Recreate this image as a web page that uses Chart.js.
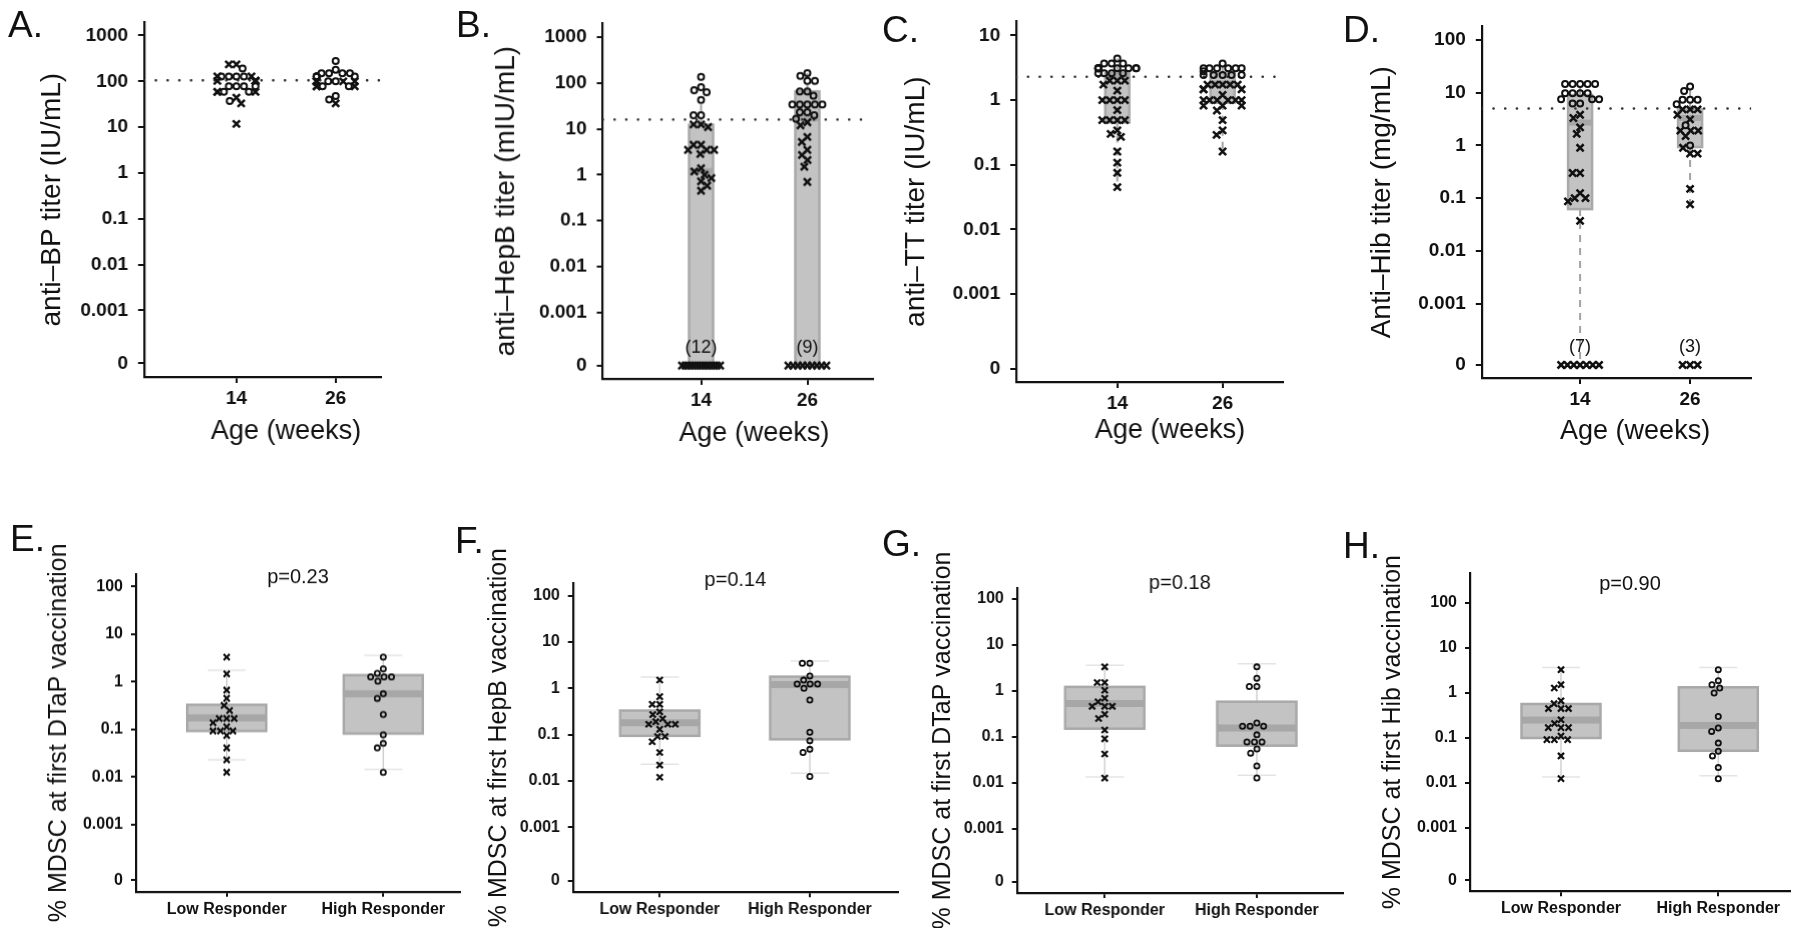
<!DOCTYPE html>
<html>
<head>
<meta charset="utf-8">
<script src="https://cdn.jsdelivr.net/npm/chart.js@4.4.0/dist/chart.umd.min.js"></script>
<style>
  body { margin: 0; background: #fff; width: 1800px; height: 932px; position: relative; overflow: hidden;
         font-family: "Liberation Sans", Arial, Helvetica, sans-serif; }
  .panel { position: absolute; }
  .letter { position: absolute; font-size: 37px; line-height: 1; color: #111; }
</style>
</head>
<body>
<script>
// ---- data ----
const ageWeeks = ['14', '26'];
const responders = ['Low Responder', 'High Responder'];
const decadeTicks = [0, 0.001, 0.01, 0.1, 1, 10, 100, 1000];
const decadeLabels = ['0', '0.001', '0.01', '0.1', '1', '10', '100', '1000'];
const pValues = ['p=0.23', 'p=0.14', 'p=0.18', 'p=0.90'];

// A. anti-BP
const bpCutoff = 105;
const bp14Circles = [190, 128, 128, 128, 128, 78, 78, 78, 78, 59, 59, 37];
const bp14Crosses = [235, 235, 128, 128, 102, 102, 102, 102, 102, 102, 102, 59, 59, 59, 44, 33, 11.8];
const bp26Circles = [277, 178, 150, 150, 150, 150, 128, 128, 128, 128, 128, 100, 100, 78, 78, 48, 40];
const bp26Crosses = [100, 100, 100, 100, 100, 100, 78, 78, 78, 33];

// B. anti-HepB
const hepbCutoff = 16;
const hepb14Circles = [137, 81, 70, 63, 43, 19.8, 19.8];
const hepb14Crosses = [12.6, 12.6, 11, 4.5, 4.5, 3.5, 3.5, 3.5, 2.85, 1.39, 1.18, 1.0, 0.85, 0.72, 0.58, 0.45,
                       0, 0, 0, 0, 0, 0, 0, 0, 0, 0, 0, 0];
const hepb26Circles = [164, 144, 112, 112, 66, 66, 53, 34, 34, 34, 34, 34, 23, 23, 19.8, 16.7];
const hepb26Crosses = [14, 12, 6.7, 5.2, 3.5, 2.7, 2.1, 1.5, 0.7, 0, 0, 0, 0, 0, 0, 0, 0, 0];
const hepbBox = { q1: [0, 0], median: [1.2, 17], q3: [12.4, 66], lower: [0, 0], upper: [43, 164] };

// C. anti-TT
const ttCutoff = 2.3;
const tt14Circles = [4.4, 3.7, 3.7, 3.7, 3.1, 3.1, 3.1, 3.1, 3.1, 3.1, 3.1, 3.1, 2.6, 2.6, 2.6, 2.6];
const tt14Crosses = [2.0, 2.0, 2.0, 1.74, 1.4, 1.0, 1.0, 1.0, 1.0, 0.7, 0.49, 0.49, 0.49, 0.49, 0.34, 0.3, 0.27,
                     0.16, 0.108, 0.075, 0.045];
const tt26Circles = [3.7, 3.1, 3.1, 3.1, 3.1, 3.1, 3.1, 2.8, 2.45, 2.45, 2.45, 2.45, 2.45];
const tt26Crosses = [1.74, 1.74, 1.74, 1.74, 1.74, 1.47, 1.47, 1.47, 1.2, 1.0, 1.0, 1.0, 1.0, 1.0, 1.0,
                     0.82, 0.82, 0.82, 0.69, 0.49, 0.34, 0.29, 0.16];
const ttBox = { q1: [0.45, 0.91], median: [2.4, 1.8], q3: [2.6, 2.6], lower: [0.045, 0.16], upper: [4.4, 3.7] };

// D. anti-Hib
const hibCutoff = 5;
const hib14Circles = [14.5, 14.5, 14.5, 14.5, 14.5, 9.7, 9.7, 9.7, 9.7, 7.5, 7.5, 7.5, 6.2, 6.2];
const hib14Crosses = [3.8, 3.3, 2.2, 1.65, 0.9, 0.3, 0.3, 0.125, 0.1, 0.1, 0.087, 0.037, 0, 0, 0, 0, 0, 0, 0];
const hib26Circles = [13, 10.7, 7.3, 7.3, 7.3, 6, 2.4, 1.0];
const hib26Crosses = [4.8, 4.8, 4.8, 3.8, 3.1, 1.9, 1.9, 1.9, 1.5, 0.9, 0.7, 0.7, 0.15, 0.076, 0, 0, 0];
const hibBox = { q1: [0.062, 0.93], median: [2.7, 3.3], q3: [9.0, 4.8], lower: [0, 0.076], upper: [14.5, 13] };

// E-H. % MDSC at first vaccination
const mdscDtapLow = [3.3, 1.47, 0.67, 0.45, 0.32, 0.25, 0.17, 0.17, 0.17, 0.138, 0.114, 0.093, 0.093, 0.093,
                     0.075, 0.041, 0.023, 0.0126];
const mdscDtapHigh = [3.3, 1.87, 1.5, 1.27, 1.27, 1.27, 1.03, 0.56, 0.45, 0.206, 0.077, 0.051, 0.041, 0.0126];
const mdscDtapBox = { q1: [0.093, 0.082], median: [0.175, 0.56], q3: [0.33, 1.38], lower: [0.023, 0.0145], upper: [1.76, 3.6] };

const mdscHepbLow = [1.51, 0.66, 0.45, 0.45, 0.31, 0.27, 0.22, 0.19, 0.167, 0.167, 0.167, 0.13, 0.091, 0.091,
                     0.07, 0.041, 0.022, 0.012];
const mdscHepbHigh = [3.46, 3.46, 1.85, 1.5, 1.24, 1.24, 1.24, 1.0, 0.56, 0.112, 0.074, 0.048, 0.041, 0.0125];
const mdscHepbBox = { q1: [0.094, 0.079], median: [0.18, 1.2], q3: [0.33, 1.78], lower: [0.023, 0.0147], upper: [1.75, 3.9] };

const mdscDtap2Low = [3.33, 1.52, 1.52, 1.03, 0.69, 0.58, 0.46, 0.46, 0.46, 0.31, 0.25, 0.14, 0.09, 0.042, 0.0126];
const mdscDtap2High = [3.33, 1.88, 1.24, 1.24, 0.2, 0.17, 0.17, 0.17, 0.11, 0.077, 0.077, 0.077, 0.054, 0.044,
                       0.023, 0.0126];
const mdscDtap2Box = { q1: [0.15, 0.064], median: [0.53, 0.155], q3: [1.22, 0.58], lower: [0.0133, 0.0145], upper: [3.6, 3.9] };

const mdscHibLow = [3.3, 1.53, 1.29, 0.67, 0.58, 0.45, 0.45, 0.45, 0.255, 0.21, 0.17, 0.17, 0.17, 0.11, 0.092,
                    0.092, 0.092, 0.04, 0.0125];
const mdscHibHigh = [3.3, 1.88, 1.53, 1.29, 1.0, 0.3, 0.167, 0.14, 0.077, 0.051, 0.04, 0.022, 0.0125];
const mdscHibBox = { q1: [0.1, 0.052], median: [0.25, 0.19], q3: [0.57, 1.34], lower: [0.0136, 0.0145], upper: [3.7, 3.7] };

// ---- helpers ----
const FONT = "'Liberation Sans', Arial, Helvetica, sans-serif";
const ZERO_AT = -4.16;   // where "0" sits on the log axis
const pos = v => v > 0 ? Math.log10(v) : ZERO_AT;

const topStyle = {
  tickSize: 19, titleSize: 28, yTickLen: 6, yTickPad: 10, xTickLen: 6, xTickPad: 4, padTop: 16,
  boxW: 24, medH: 6, crossR: 5, crossW: 2.5, circR: 3, circW: 2, gap: 7.5, maxHalf: 19,
  whiskerColor: '#a3a3a3', whiskerDash: [7, 6], whiskerW: 2, capW: 0, canvasBottom: 460
};
const bottomStyle = {
  tickSize: 16, titleSize: 25, yTickLen: 5, yTickPad: 8, xTickLen: 5, xTickPad: 3, padTop: 50,
  boxW: 79, medH: 7, crossR: 4.3, crossW: 2.2, circR: 2.6, circW: 1.8, gap: 7.5, maxHalf: 19,
  whiskerColor: '#d0d0d0', whiskerDash: [], whiskerW: 1.5, capW: 38, capColor: '#e4e4e4', canvasBottom: 928
};

const panels = [
  { letter: 'A.', letterXY: [8, 37], st: topStyle, yTitle: 'anti–BP titer (IU/mL)', titleCx: 52,
    cats: ageWeeks, groups: [[bp14Circles, bp14Crosses], [bp26Circles, bp26Crosses]], box: null, cutoff: bpCutoff,
    area: [144, 380, 16.7, 376.7], catPx: [236, 335], yLim: [-4.456, 3.286], nTicks: 8,
    xTitle: 'Age (weeks)', xTitleY: 431.7 },
  { letter: 'B.', letterXY: [456, 37], st: topStyle, yTitle: 'anti–HepB titer (mIU/mL)', titleCx: 506,
    cats: ageWeeks, groups: [[hepb14Circles, hepb14Crosses], [hepb26Circles, hepb26Crosses]], box: hepbBox, cutoff: hepbCutoff,
    area: [602.7, 871.7, 18.3, 378.3], catPx: [700.7, 806.7], yLim: [-4.449, 3.30], nTicks: 8,
    xTitle: 'Age (weeks)', xTitleY: 433 },
  { letter: 'C.', letterXY: [882, 42], st: topStyle, yTitle: 'anti–TT titer (IU/mL)', titleCx: 915.8,
    cats: ageWeeks, groups: [[tt14Circles, tt14Crosses], [tt26Circles, tt26Crosses]], box: ttBox, cutoff: ttCutoff,
    area: [1016, 1281.7, 15.7, 381.7], catPx: [1116.7, 1221.7], yLim: [-4.363, 1.218], nTicks: 6,
    xTitle: 'Age (weeks)', xTitleY: 430 },
  { letter: 'D.', letterXY: [1343, 42], st: topStyle, yTitle: 'Anti–Hib titer (mg/mL)', titleCx: 1381.7,
    cats: ageWeeks, groups: [[hib14Circles, hib14Crosses], [hib26Circles, hib26Crosses]], box: hibBox, cutoff: hibCutoff,
    area: [1481.7, 1751, 20.7, 377.7], catPx: [1580, 1690], yLim: [-4.407, 2.254], nTicks: 7,
    xTitle: 'Age (weeks)', xTitleY: 431.7 },
  { letter: 'E.', letterXY: [10, 551], st: bottomStyle, yTitle: '% MDSC at first DTaP vaccination', titleCx: 59,
    cats: responders, groups: [[[], mdscDtapLow], [mdscDtapHigh, []]], box: mdscDtapBox, pText: pValues[0], pY: 577.7,
    area: [136, 460, 574.3, 891], catPx: [226.7, 383.3], yLim: [-4.404, 2.26], nTicks: 7 },
  { letter: 'F.', letterXY: [455, 553], st: bottomStyle, yTitle: '% MDSC at first HepB vaccination', titleCx: 499,
    cats: responders, groups: [[[], mdscHepbLow], [mdscHepbHigh, []]], box: mdscHepbBox, pText: pValues[1], pY: 580.3,
    area: [572.7, 896.7, 582.7, 892], catPx: [659.3, 809], yLim: [-4.404, 2.272], nTicks: 7 },
  { letter: 'G.', letterXY: [882, 556], st: bottomStyle, yTitle: '% MDSC at first DTaP vaccination', titleCx: 943,
    cats: responders, groups: [[[], mdscDtap2Low], [mdscDtap2High, []]], box: mdscDtap2Box, pText: pValues[2], pY: 582.7,
    area: [1016.7, 1341.7, 587.7, 892.7], catPx: [1104.3, 1256], yLim: [-4.403, 2.24], nTicks: 7 },
  { letter: 'H.', letterXY: [1343, 558], st: bottomStyle, yTitle: '% MDSC at first Hib vaccination', titleCx: 1393,
    cats: responders, groups: [[[], mdscHibLow], [mdscHibHigh, []]], box: mdscHibBox, pText: pValues[3], pY: 584.3,
    area: [1470, 1790, 572.7, 891], catPx: [1561, 1718.3], yLim: [-4.407, 2.667], nTicks: 7 }
];

// simple beeswarm: horizontal offsets in px, zeros laid out as one row
function swarm(vals, pxPerY, gap, maxHalf) {
  const out = vals.map(() => 0);
  const zeros = [];
  vals.forEach((v, i) => { if (v <= 0) zeros.push(i); });
  if (zeros.length > 1) {
    const step = Math.min(gap, 2 * maxHalf / (zeros.length - 1));
    zeros.forEach((i, k) => { out[i] = (k - (zeros.length - 1) / 2) * step; });
  }
  const order = vals.map((v, i) => i).filter(i => vals[i] > 0).sort((a, b) => vals[b] - vals[a]);
  const placed = [];
  order.forEach(i => {
    const y = pos(vals[i]) * pxPerY;
    const near = placed.filter(q => Math.abs(q.y - y) < gap);
    const cand = [0];
    near.forEach(q => {
      const d = Math.sqrt(gap * gap - (q.y - y) ** 2);
      cand.push(q.x - d, q.x + d);
    });
    cand.sort((a, b) => Math.abs(a) - Math.abs(b));
    let x = cand.find(c => near.every(q => Math.hypot(q.x - c, q.y - y) >= gap - 0.01));
    if (x === undefined) x = 0;
    x = Math.max(-maxHalf, Math.min(maxHalf, x));
    placed.push({ x, y });
    out[i] = x;
  });
  return out;
}

function panelPlugin(p, cLeft, cTop) {
  const st = p.st;
  return {
    id: 'panelExtras',
    beforeDatasetsDraw(chart) {
      if (!p.box) return;
      const { ctx, scales: { x, y } } = chart;
      const seg = (x1, y1, x2, y2) => { ctx.beginPath(); ctx.moveTo(x1, y1); ctx.lineTo(x2, y2); ctx.stroke(); };
      ctx.save();
      p.box.q1.forEach((_, gi) => {
        const cx = x.getPixelForValue(gi + 1);
        const yq1 = y.getPixelForValue(pos(p.box.q1[gi]));
        const yq3 = y.getPixelForValue(pos(p.box.q3[gi]));
        const ymed = y.getPixelForValue(pos(p.box.median[gi]));
        const ylo = y.getPixelForValue(pos(p.box.lower[gi]));
        const yhi = y.getPixelForValue(pos(p.box.upper[gi]));
        ctx.strokeStyle = st.whiskerColor;
        ctx.lineWidth = st.whiskerW;
        ctx.setLineDash(st.whiskerDash);
        if (yhi < yq3) seg(cx, yq3, cx, yhi);
        if (ylo > yq1) seg(cx, yq1, cx, ylo);
        ctx.setLineDash([]);
        if (st.capW) {
          ctx.strokeStyle = st.capColor;
          seg(cx - st.capW / 2, yhi, cx + st.capW / 2, yhi);
          seg(cx - st.capW / 2, ylo, cx + st.capW / 2, ylo);
        }
        ctx.fillStyle = '#c3c3c3';
        ctx.fillRect(cx - st.boxW / 2, yq3, st.boxW, yq1 - yq3);
        ctx.strokeStyle = '#a9a9a9';
        ctx.lineWidth = 2.5;
        ctx.strokeRect(cx - st.boxW / 2, yq3, st.boxW, yq1 - yq3);
        ctx.fillStyle = '#a7a7a7';
        ctx.fillRect(cx - st.boxW / 2, ymed - st.medH / 2, st.boxW, st.medH);
      });
      ctx.restore();
    },
    afterDraw(chart) {
      const { ctx, chartArea, scales: { x, y } } = chart;
      ctx.save();
      ctx.fillStyle = '#111';
      ctx.textAlign = 'center';
      ctx.textBaseline = 'middle';
      // counts of zero values
      ctx.font = '18px ' + FONT;
      p.groups.forEach((g, gi) => {
        const n = g[0].concat(g[1]).filter(v => v === 0).length;
        if (n) ctx.fillText('(' + n + ')', x.getPixelForValue(gi + 1), y.getPixelForValue(ZERO_AT) - 18);
      });
      if (p.xTitle) {
        ctx.font = '27px ' + FONT;
        ctx.fillText(p.xTitle, (x.getPixelForValue(1) + x.getPixelForValue(2)) / 2, p.xTitleY - cTop);
      }
      if (p.pText) {
        ctx.font = '20px ' + FONT;
        ctx.fillText(p.pText, (chartArea.left + chartArea.right) / 2, p.pY - cTop);
      }
      // y-axis title, free to run past the axis ends
      ctx.font = st.titleSize + 'px ' + FONT;
      ctx.translate(p.titleCx - cLeft, (chartArea.top + chartArea.bottom) / 2);
      ctx.rotate(-Math.PI / 2);
      ctx.fillText(p.yTitle, 0, 0);
      ctx.restore();
    }
  };
}

function makePanel(p) {
  const st = p.st;
  const [l, r, t, b] = p.area;
  const lh = st.titleSize * 1.2;
  const cLeft = p.titleCx - lh / 2 - 2;
  const cTop = t - st.padTop;
  const cRight = r + 8;
  const cBottom = st.canvasBottom;

  const wrap = document.createElement('div');
  wrap.className = 'panel';
  wrap.style.left = cLeft + 'px';
  wrap.style.top = cTop + 'px';
  wrap.style.width = (cRight - cLeft) + 'px';
  wrap.style.height = (cBottom - cTop) + 'px';
  const canvas = document.createElement('canvas');
  wrap.appendChild(canvas);
  document.body.appendChild(wrap);

  const lbl = document.createElement('div');
  lbl.className = 'letter';
  lbl.textContent = p.letter;
  lbl.style.left = p.letterXY[0] + 'px';
  lbl.style.top = (p.letterXY[1] - 31.3) + 'px';
  document.body.appendChild(lbl);

  // x range so that the two groups land where they do in the figure
  const f1 = (p.catPx[0] - l) / (r - l), f2 = (p.catPx[1] - l) / (r - l);
  const xMin = 1 - f1 / (f2 - f1);
  const xMax = xMin + 1 / (f2 - f1);
  const [yMin, yMax] = p.yLim;
  const pxPerX = (r - l) / (xMax - xMin);
  const pxPerY = (b - t) / (yMax - yMin);
  const tickVals = decadeTicks.slice(0, p.nTicks);
  const tickLbls = decadeLabels.slice(0, p.nTicks);

  const datasets = [];
  if (p.cutoff != null) {
    datasets.push({
      type: 'line',
      data: [{ x: xMin, y: pos(p.cutoff) }, { x: xMax, y: pos(p.cutoff) }],
      borderColor: '#333', borderWidth: 2.6, borderDash: [0.1, 11.6], borderCapStyle: 'round',
      pointRadius: 0, order: 3
    });
  }
  p.groups.forEach((g, gi) => {
    const all = g[0].map(v => ({ v, circle: true })).concat(g[1].map(v => ({ v, circle: false })));
    const off = swarm(all.map(o => o.v), pxPerY, st.gap, st.maxHalf);
    const pts = all.map((o, i) => ({ x: gi + 1 + off[i] / pxPerX, y: pos(o.v), circle: o.circle }));
    datasets.push({
      data: pts.filter(q => !q.circle), pointStyle: 'crossRot', pointRadius: st.crossR,
      pointBorderWidth: st.crossW, pointBorderColor: '#111', pointBackgroundColor: '#111', order: 1
    });
    datasets.push({
      data: pts.filter(q => q.circle), pointStyle: 'circle', pointRadius: st.circR,
      pointBorderWidth: st.circW, pointBorderColor: '#111', pointBackgroundColor: 'rgba(0,0,0,0)', order: 1
    });
  });

  new Chart(canvas, {
    type: 'scatter',
    data: { datasets },
    options: {
      responsive: true,
      maintainAspectRatio: false,
      animation: false,
      events: [],
      layout: { padding: { top: st.padTop, right: 8, left: 0, bottom: 0 } },
      plugins: { legend: { display: false }, tooltip: { enabled: false } },
      scales: {
        x: {
          type: 'linear', min: xMin, max: xMax,
          afterBuildTicks: s => { s.ticks = p.cats.map((c, i) => ({ value: i + 1 })); },
          afterFit: s => { s.height = cBottom - b; },
          ticks: {
            autoSkip: false, maxRotation: 0, color: '#111', padding: st.xTickPad,
            font: { family: FONT, size: st.tickSize, weight: 'bold' },
            callback: (v, i) => p.cats[i]
          },
          grid: { drawOnChartArea: false, drawTicks: true, tickLength: st.xTickLen, color: '#111', lineWidth: 2 },
          border: { display: true, color: '#111', width: 2.2 }
        },
        y: {
          type: 'linear', min: yMin, max: yMax,
          afterBuildTicks: s => { s.ticks = tickVals.map(v => ({ value: pos(v) })); },
          afterFit: s => { s.width = l - cLeft; },
          ticks: {
            autoSkip: false, color: '#111', padding: st.yTickPad,
            font: { family: FONT, size: st.tickSize, weight: 'bold' },
            callback: (v, i) => tickLbls[i]
          },
          grid: { drawOnChartArea: false, drawTicks: true, tickLength: st.yTickLen, color: '#111', lineWidth: 2 },
          border: { display: true, color: '#111', width: 2.2 },
          title: { display: false }
        }
      }
    },
    plugins: [panelPlugin(p, cLeft, cTop)]
  });
}

panels.forEach(makePanel);
</script>
</body>
</html>
